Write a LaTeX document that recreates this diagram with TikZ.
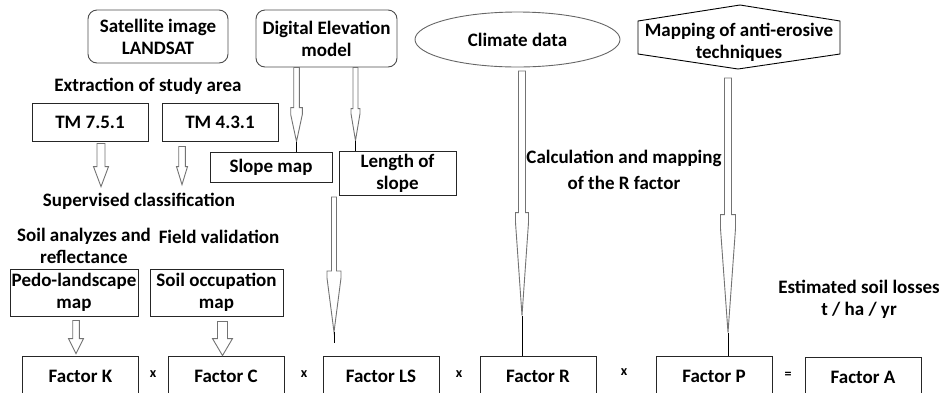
\documentclass[tikz,border=0pt]{standalone}
\usepackage{fontspec}
\setmainfont{Carlito}
\usepackage{tikz}
\usetikzlibrary{shapes,calc}
\tikzset{every node/.style={font=\bfseries\fontsize{19}{22}\selectfont, align=center, inner sep=1pt},
 box/.style={draw=black!85, line width=0.9pt, inner sep=0pt},
 roundbox/.style={draw=black!70, line width=0.9pt, rounded corners=9pt, inner sep=0pt},
 factorbox/.style={box, minimum width=116pt, minimum height=40pt},
 arrowline/.style={draw=black!55, line width=0.9pt, fill=white},
 stem/.style={draw=black, line width=0.9pt},
 sign/.style={font=\bfseries\fontsize{14}{16}\selectfont},
 }
% from, to, shaft, head, taper, neck, tip offset
\newcommand{\hollowarrow}[8][draw=none]{%
  \path[arrowline] let \p1=(#2), \p2=(#3) in
    (\x1-#4,\y1) -- (\x1-#4,\y2+#8+#6+#7) -- (\x1-#5,\y2+#8+#6+#7)
    -- (\x1-#5,\y2+#8+#6) -- (\x1,\y2+#8) -- (\x1+#5,\y2+#8+#6)
    -- (\x1+#5,\y2+#8+#6+#7) -- (\x1+#4,\y2+#8+#6+#7) -- (\x1+#4,\y1) -- cycle;
  \path[#1] let \p1=(#2), \p2=(#3) in (\x1,\y2+#8) -- (\x1,\y2);}

\begin{document}
\begin{tikzpicture}[x=1pt, y=-1pt]
    \useasboundingbox (0,0) rectangle (942,392);
    \clip (0,0) rectangle (942,392);

    \node[roundbox, minimum width=140pt, minimum height=53pt] (satellite) at (158,36.5) {Satellite image\\LANDSAT};
    \node[roundbox, minimum width=141pt, minimum height=57pt] (dem) at (326.5,38.5) {Digital Elevation\\model};
    \node[ellipse, draw=black!60, line width=0.9pt, minimum width=205pt, minimum height=55pt, inner sep=0pt] (climate) at (517.5,39.5) {Climate data};
    \draw[black, line width=0.9pt] (638,21) -- (740,5) -- (840,21) -- (840,54) -- (738,69) -- (638,54) -- cycle;
    \node (mapping) at (739,42) {Mapping of anti-erosive\\techniques};

    \node (extraction) at (148,86) {Extraction of study area};
    \node[box, minimum width=116pt, minimum height=38pt] (tm751) at (90,122) {TM 7.5.1};
    \node[box, minimum width=116pt, minimum height=38pt] (tm431) at (220,122) {TM 4.3.1};
    \node[box, minimum width=122pt, minimum height=30pt] (slope) at (271,167) {Slope map};
    \node[box, minimum width=117pt, minimum height=44pt] (length) at (397.5,173) {Length of\\slope};
    \node (supervised) at (139,201) {Supervised classification};
    \node (calc) at (624,170) {Calculation and mapping\\[4pt]of the R factor};

    \node (soilanalyzes) at (84,245.5) {Soil analyzes and\\reflectance};
    \node (fieldval) at (219,237) {Field validation};
    \node[box, minimum width=128pt, minimum height=47pt] (pedo) at (74,292.5) {Pedo-landscape\\map};
    \node[box, minimum width=133pt, minimum height=47pt] (soilocc) at (216.5,292.5) {Soil occupation\\map};
    \node (estimated) at (859,299) {Estimated soil losses\\t / ha / yr};

    \node[factorbox] (factorK) at (80.5,376) {Factor K};
    \node[factorbox] (factorC) at (226,376) {Factor C};
    \node[factorbox] (factorLS) at (381,376) {Factor LS};
    \node[factorbox] (factorR) at (538,376) {Factor R};
    \node[factorbox] (factorP) at (714,376) {Factor P};
    \node[factorbox] (factorA) at (863,377) {Factor A};
    \node[sign] (times1) at (153,374) {x};
    \node[sign] (times2) at (304,374) {x};
    \node[sign] (times3) at (459,374) {x};
    \node[sign] (times4) at (624,372) {x};
    \node[sign] (equals) at (788,375) {=};

    \coordinate (lstop) at (334,197);
    \coordinate (lsend) at (334,343);
    \coordinate (rtop) at (522,71);
    \coordinate (ptop) at (728,78);

    \hollowarrow{$(tm751.south)+(11,2)$}{supervised.north}{4pt}{7.5pt}{20pt}{0pt}{5pt}
    \hollowarrow{$(tm431.south)+(-38,5)$}{supervised.north}{3.3pt}{5.5pt}{18pt}{0pt}{7pt}
    \hollowarrow[stem]{$(dem.south)+(-30,0)$}{slope.north}{2.8pt}{5.8pt}{27pt}{7pt}{10pt}
    \hollowarrow[stem]{$(dem.south)+(29,0)$}{length.north}{2.5pt}{4.5pt}{27pt}{5pt}{10pt}
    \hollowarrow[stem]{lstop}{lsend}{2.5pt}{7pt}{54pt}{7pt}{11pt}
    \hollowarrow[stem]{rtop}{factorR.north}{3.5pt}{6.5pt}{93pt}{10pt}{40pt}
    \hollowarrow[stem]{ptop}{factorP.north}{3.5pt}{7.5pt}{104pt}{14pt}{23pt}
    \hollowarrow{$(pedo.south)+(2,4)$}{factorK.north}{3.3pt}{7.5pt}{15pt}{0pt}{2pt}
    \hollowarrow{$(soilocc.south)+(6,5)$}{factorC.north}{5pt}{10pt}{17pt}{0pt}{0pt}
\end{tikzpicture}
\end{document}
